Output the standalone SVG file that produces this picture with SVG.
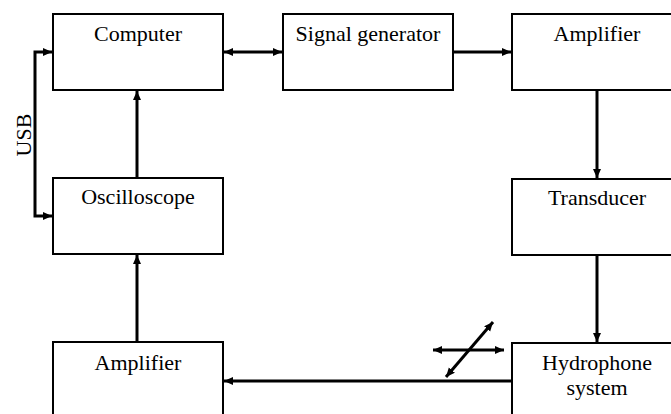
<svg xmlns="http://www.w3.org/2000/svg" width="671" height="414" viewBox="0 0 671 414">
<defs>
<marker id="ah" markerUnits="userSpaceOnUse" markerWidth="12" markerHeight="12" refX="9" refY="4" orient="auto-start-reverse">
<path d="M0,0 L9,4 L0,8 z" fill="#000"/>
</marker>
<style>
.box{fill:#fff;stroke:#000;stroke-width:2}
.lbl{font-family:"Liberation Serif","Times New Roman",serif;font-size:22px;fill:#000;text-anchor:middle}
.c{fill:none;stroke:#000;stroke-width:3}
</style>
</defs>
<rect width="671" height="414" fill="#fff"/>
<g id="connectors">
<line class="c" x1="224" y1="52" x2="282" y2="52" marker-start="url(#ah)" marker-end="url(#ah)"/>
<line class="c" x1="454" y1="52" x2="511" y2="52" marker-end="url(#ah)"/>
<line class="c" x1="597" y1="91" x2="597" y2="178" marker-end="url(#ah)"/>
<line class="c" x1="597" y1="256" x2="597" y2="342" marker-end="url(#ah)"/>
<line class="c" x1="511" y1="381" x2="224" y2="381" marker-end="url(#ah)"/>
<line class="c" x1="137" y1="341" x2="137" y2="255" marker-end="url(#ah)"/>
<line class="c" x1="137" y1="177" x2="137" y2="91" marker-end="url(#ah)"/>
<polyline class="c" points="52,52 35,52 35,216 52,216" marker-start="url(#ah)" marker-end="url(#ah)"/>
<line class="c" x1="433" y1="350" x2="504" y2="350" marker-start="url(#ah)" marker-end="url(#ah)"/>
<line class="c" x1="446" y1="377" x2="493" y2="322" marker-start="url(#ah)" marker-end="url(#ah)"/>
<text class="lbl" transform="translate(31,135) rotate(-90)">USB</text>
</g>
<g id="computer">
<rect class="box" x="53" y="14" width="170" height="76"/>
<text class="lbl" x="138" y="41">Computer</text>
</g>
<g id="signal-generator">
<rect class="box" x="283" y="14" width="170" height="76"/>
<text class="lbl" x="368" y="41">Signal generator</text>
</g>
<g id="amplifier-top">
<rect class="box" x="512" y="14" width="170" height="76"/>
<text class="lbl" x="597" y="41">Amplifier</text>
</g>
<g id="transducer">
<rect class="box" x="512" y="179" width="170" height="76"/>
<text class="lbl" x="597" y="205">Transducer</text>
</g>
<g id="hydrophone">
<rect class="box" x="512" y="343" width="170" height="76"/>
<text class="lbl" x="597" y="370">Hydrophone</text>
<text class="lbl" x="597" y="395">system</text>
</g>
<g id="oscilloscope">
<rect class="box" x="53" y="178" width="170" height="76"/>
<text class="lbl" x="138" y="204">Oscilloscope</text>
</g>
<g id="amplifier-bottom">
<rect class="box" x="53" y="342" width="170" height="76"/>
<text class="lbl" x="138" y="370">Amplifier</text>
</g>
</svg>
